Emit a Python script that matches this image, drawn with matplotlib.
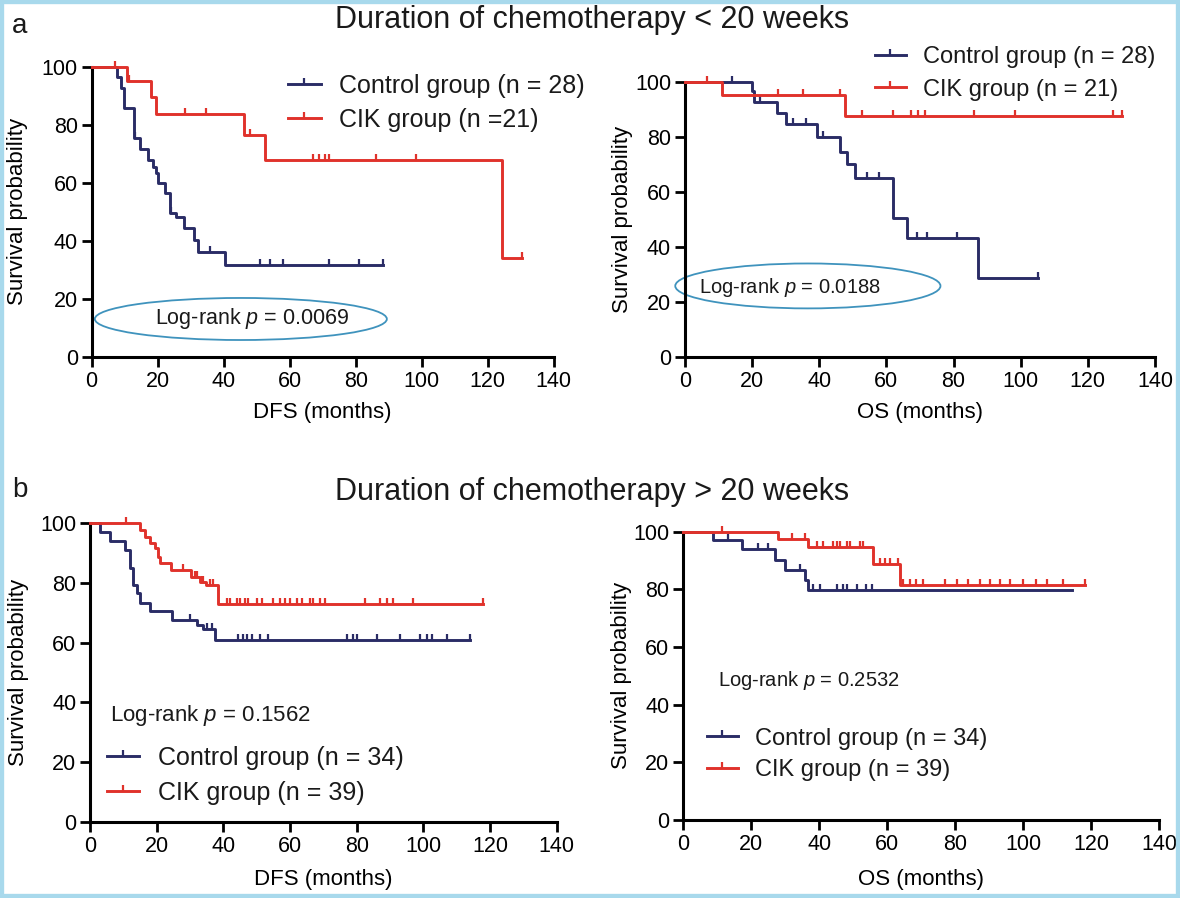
import matplotlib

matplotlib.use("Agg")

import matplotlib.pyplot as plt
import numpy as np
from matplotlib.lines import Line2D
from matplotlib.markers import MarkerStyle
from matplotlib.patches import Ellipse, Rectangle
from matplotlib.path import Path

NAVY = "#2a2c66"
RED = "#e0322b"
RING = "#3f93bd"

# ---- panel a, DFS ----
a_dfs_ctrl_times = [7.8, 9.0, 9.7, 12.7, 14.5, 17.1, 18.6, 19.6, 20.1, 22.1, 23.6, 25.6, 28.1, 31.1, 32.2, 40.3]
a_dfs_ctrl_levels = [96.6, 92.6, 85.7, 75.3, 71.5, 67.8, 65.5, 63.2, 59.8, 56.3, 49.4, 48.3, 44.3, 40.2, 36.2, 31.6]
a_dfs_ctrl_censor = [13.2, 23.9, 36.0, 51.0, 54.0, 57.9, 72.0, 81.1, 88.2]
a_dfs_ctrl_end = 88.2

a_dfs_cik_times = [10.8, 18.1, 19.6, 46.2, 52.5, 124.2]
a_dfs_cik_levels = [95.2, 89.5, 83.8, 76.4, 68.0, 34.0]
a_dfs_cik_censor = [7.1, 11.4, 28.2, 34.7, 48.0, 67.0, 69.0, 70.7, 72.0, 86.2, 98.3, 130.3]
a_dfs_cik_end = 130.3

# ---- panel a, OS ----
a_os_ctrl_times = [19.9, 20.6, 27.3, 30.1, 39.2, 46.2, 48.2, 50.6, 62.0, 66.2, 87.2]
a_os_ctrl_levels = [96.6, 92.8, 88.6, 84.6, 80.0, 74.6, 70.0, 64.9, 50.4, 43.2, 28.9]
a_os_ctrl_censor = [13.9, 22.4, 32.1, 36.0, 41.2, 54.1, 57.9, 69.0, 72.0, 81.1, 105.2]
a_os_ctrl_end = 105.2

a_os_cik_times = [10.9, 47.7]
a_os_cik_levels = [95.2, 87.5]
a_os_cik_censor = [6.7, 27.8, 35.3, 46.2, 52.6, 62.1, 67.2, 69.5, 71.5, 86.1, 98.3, 127.6, 130.2]
a_os_cik_end = 130.2

# ---- panel b, DFS ----
b_dfs_ctrl_times = [2.9, 6.0, 10.5, 12.0, 13.0, 14.0, 15.0, 18.0, 24.5, 32.0, 34.0, 37.5]
b_dfs_ctrl_levels = [97.1, 94.1, 91.2, 84.9, 79.3, 76.5, 73.3, 70.6, 67.6, 65.9, 64.5, 60.9]
b_dfs_ctrl_censor = [30.0, 35.0, 36.5, 44.5, 46.0, 47.0, 48.5, 51.0, 53.5, 77.0, 79.0, 80.0,
                     86.0, 93.0, 99.0, 101.0, 102.5, 107.0, 114.0]
b_dfs_ctrl_end = 114.0

b_dfs_cik_times = [14.9, 16.4, 17.9, 19.4, 20.4, 20.9, 24.4, 30.4, 32.9, 34.9, 38.4]
b_dfs_cik_levels = [97.8, 95.5, 93.5, 91.6, 88.8, 86.6, 84.3, 82.1, 80.4, 79.3, 73.0]
b_dfs_cik_censor = [10.9, 27.9, 31.4, 32.2, 33.5, 34.0, 36.0, 37.0, 41.0, 42.0, 44.0, 45.0,
                    46.5, 47.5, 50.0, 51.5, 55.0, 57.0, 58.5, 60.0, 62.0, 63.5, 66.0, 67.0,
                    69.0, 70.5, 82.5, 87.0, 89.0, 91.0, 97.0, 118.0]
b_dfs_cik_end = 118.0

# ---- panel b, OS ----
b_os_ctrl_times = [8.8, 17.2, 27.0, 29.9, 35.8, 36.8]
b_os_ctrl_levels = [97.1, 94.1, 90.1, 86.6, 83.1, 79.7]
b_os_ctrl_censor = [13.2, 22.1, 25.0, 34.3, 38.2, 40.2, 45.1, 47.1, 48.1, 51.0, 53.9, 55.4]
b_os_ctrl_end = 114.2

b_os_cik_times = [27.9, 36.8, 55.9, 63.7]
b_os_cik_levels = [97.4, 94.7, 88.9, 81.4]
b_os_cik_censor = [11.3, 31.9, 35.8, 39.2, 41.2, 44.1, 45.1, 46.1, 48.1, 49.0, 52.0, 52.9,
                   57.9, 59.3, 60.8, 63.2, 64.7, 66.7, 68.6, 70.6, 77.0, 80.4, 83.8, 87.3,
                   90.2, 93.1, 96.1, 100.0, 103.9, 106.9, 111.8, 118.1]
b_os_cik_end = 118.1

x_ticks = [0, 20, 40, 60, 80, 100, 120, 140]
y_ticks = [0, 20, 40, 60, 80, 100]

# censor tick: short upward stroke
TICK = MarkerStyle(Path([(0, 0), (0, 1)], [Path.MOVETO, Path.LINETO]))


def _configure_matplotlib():
    plt.rcParams.update(
        {
            "font.family": ["Liberation Sans", "DejaVu Sans"],
            "mathtext.fontset": "custom",
            "mathtext.it": "Liberation Sans:italic",
            "mathtext.rm": "Liberation Sans",
            "text.color": "#1a1a1a",
        }
    )


def _km(ax, times, levels, censor, end, color):
    x = np.array([0.0] + times + [end])
    y = np.array([100.0] + levels + [levels[-1]])
    ax.step(x, y, where="post", color=color, lw=2.1, clip_on=False, zorder=3)
    idx = np.searchsorted(x, censor, side="right") - 1
    ax.plot(censor, y[idx], ls="none", marker=TICK, ms=9, mew=1.6,
            color=color, clip_on=False, zorder=3)


def _style(ax, xlabel, xlab_y, ylab_x):
    ax.set_xlim(0, 140)
    ax.set_ylim(0, 100)
    ax.set_xticks(x_ticks)
    ax.set_yticks(y_ticks)
    for side in ("top", "right"):
        ax.spines[side].set_visible(False)
    for side in ("left", "bottom"):
        ax.spines[side].set_linewidth(2.2)
    ax.tick_params(direction="out", length=7, width=2, labelsize=15.5, pad=3)
    ax.set_xlabel(xlabel, fontsize=16)
    ax.set_ylabel("Survival probability", fontsize=16)
    ax.xaxis.set_label_coords(0.5, xlab_y)
    ax.xaxis.label.set_va("center")
    ax.yaxis.set_label_coords(ylab_x, 0.5)
    ax.yaxis.label.set_va("center")


def _legend(ax, labels, anchor, size, spacing):
    handles = [
        Line2D([], [], color=NAVY, lw=2.1, marker=TICK, ms=9, mew=1.6),
        Line2D([], [], color=RED, lw=2.1, marker=TICK, ms=9, mew=1.6),
    ]
    ax.legend(handles, labels, loc="upper left", bbox_to_anchor=anchor,
              frameon=False, fontsize=size, numpoints=1, handlelength=1.3,
              handletextpad=0.75, labelspacing=spacing, borderpad=0,
              borderaxespad=0)


def main():
    _configure_matplotlib()
    fig = plt.figure(figsize=(11.8, 8.98), dpi=100)

    ax1 = fig.add_axes([0.0777, 0.6028, 0.3915, 0.3229])
    ax2 = fig.add_axes([0.5805, 0.6021, 0.3983, 0.3069])
    ax3 = fig.add_axes([0.0763, 0.0850, 0.3955, 0.3323])
    ax4 = fig.add_axes([0.5790, 0.0869, 0.4034, 0.3210])

    _km(ax1, a_dfs_ctrl_times, a_dfs_ctrl_levels, a_dfs_ctrl_censor, a_dfs_ctrl_end, NAVY)
    _km(ax1, a_dfs_cik_times, a_dfs_cik_levels, a_dfs_cik_censor, a_dfs_cik_end, RED)
    _km(ax2, a_os_ctrl_times, a_os_ctrl_levels, a_os_ctrl_censor, a_os_ctrl_end, NAVY)
    _km(ax2, a_os_cik_times, a_os_cik_levels, a_os_cik_censor, a_os_cik_end, RED)
    _km(ax3, b_dfs_ctrl_times, b_dfs_ctrl_levels, b_dfs_ctrl_censor, b_dfs_ctrl_end, NAVY)
    _km(ax3, b_dfs_cik_times, b_dfs_cik_levels, b_dfs_cik_censor, b_dfs_cik_end, RED)
    _km(ax4, b_os_ctrl_times, b_os_ctrl_levels, b_os_ctrl_censor, b_os_ctrl_end, NAVY)
    _km(ax4, b_os_cik_times, b_os_cik_levels, b_os_cik_censor, b_os_cik_end, RED)

    _style(ax1, "DFS (months)", -0.194, -0.16)
    _style(ax2, "OS (months)", -0.202, -0.134)
    _style(ax3, "DFS (months)", -0.195, -0.154)
    _style(ax4, "OS (months)", -0.208, -0.129)

    _legend(ax1, ["Control group (n = 28)", "CIK group (n =21)"], (0.425, 0.975), 18, 0.4)
    _legend(ax2, ["Control group (n = 28)", "CIK group (n = 21)"], (0.404, 1.13), 17, 0.45)
    _legend(ax3, ["Control group (n = 34)", "CIK group (n = 39)"], (0.036, 0.255), 18, 0.45)
    _legend(ax4, ["Control group (n = 34)", "CIK group (n = 39)"], (0.050, 0.32), 17, 0.4)

    # log-rank notes
    ax1.text(48.7, 13.0, r"Log-rank $p$ = 0.0069", fontsize=15.5, ha="center", va="center")
    ax1.add_patch(Ellipse((45.2, 13.0), 88.5, 14.5, fill=False, ec=RING, lw=1.3, clip_on=False))
    ax2.text(31.3, 25.5, r"Log-rank $p$ = 0.0188", fontsize=14.5, ha="center", va="center")
    ax2.add_patch(Ellipse((36.6, 25.9), 79.0, 16.3, fill=False, ec=RING, lw=1.3, clip_on=False))
    ax3.text(36.0, 35.7, r"Log-rank $p$ = 0.1562", fontsize=16, ha="center", va="center")
    ax4.text(37.0, 48.3, r"Log-rank $p$ = 0.2532", fontsize=14.5, ha="center", va="center")

    fig.text(20 / 1180, 1 - 26 / 898, "a", fontsize=20, ha="center", va="center")
    fig.text(592 / 1180, 1 - 20 / 898, "Duration of chemotherapy < 20 weeks",
             fontsize=22, ha="center", va="center")
    fig.text(20 / 1180, 1 - 490 / 898, "b", fontsize=20, ha="center", va="center")
    fig.text(592 / 1180, 1 - 492 / 898, "Duration of chemotherapy > 20 weeks",
             fontsize=22, ha="center", va="center")

    fig.patches.append(Rectangle((0, 0), 1, 1, transform=fig.transFigure, fill=False,
                                 ec="#a8d9ec", lw=6, zorder=10))

    fig.savefig("out.png", dpi=100)
    plt.close(fig)


if __name__ == "__main__":
    main()
